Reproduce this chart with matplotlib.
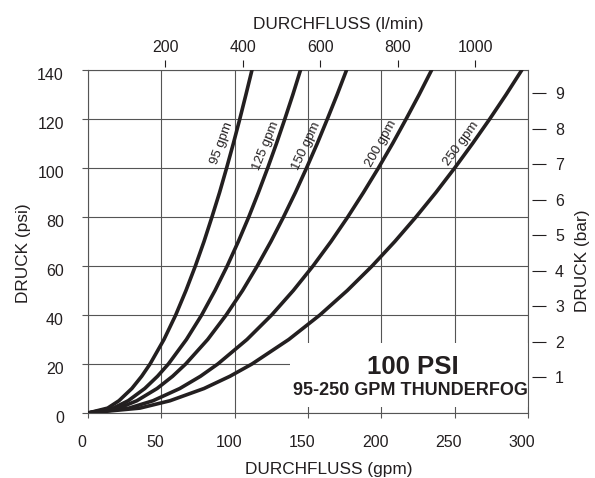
import matplotlib
matplotlib.use('Agg')
import matplotlib.pyplot as plt
from matplotlib.patches import Rectangle
from matplotlib.transforms import ScaledTranslation

plt.rcParams['font.family'] = ['Liberation Sans', 'DejaVu Sans']

INK = '#231f20'
GRID = '#555555'

# pressure levels (psi) and the flow (gpm) each nozzle setting needs to reach them
psi_levels = [0, 2, 5, 10, 15, 20, 30, 40, 50, 60, 70, 80, 90, 100, 110, 120, 130, 140]
flow_95 = [0, 13.4, 21.1, 29.9, 36.6, 42.3, 51.8, 59.8, 66.8, 73.2, 79.1, 84.5,
           89.7, 94.5, 99.1, 103.5, 107.7, 111.8]
flow_125 = [0, 17.3, 27.4, 38.7, 47.4, 54.8, 67.1, 77.5, 86.6, 94.9, 102.5, 109.6,
            116.2, 122.5, 128.5, 134.2, 139.7, 144.9]
flow_150 = [0, 21.1, 33.3, 47.1, 57.7, 66.6, 81.6, 94.2, 105.4, 115.4, 124.7, 133.3,
            141.4, 149.0, 156.3, 163.2, 169.9, 176.3]
flow_200 = [0, 28.0, 44.3, 62.6, 76.7, 88.5, 108.4, 125.2, 140.0, 153.4, 165.7, 177.1,
            187.8, 198.0, 207.7, 216.9, 225.8, 234.3]
flow_250 = [0, 35.4, 55.9, 79.1, 96.8, 111.8, 136.9, 158.1, 176.8, 193.7, 209.2, 223.6,
            237.2, 250.0, 262.2, 273.9, 285.1, 295.8]

curve_names = ['95 gpm', '125 gpm', '150 gpm', '200 gpm', '250 gpm']
curve_flows = [flow_95, flow_125, flow_150, flow_200, flow_250]
label_x = [91.2, 121.1, 149.0, 200.0, 254.4]
label_y = [110.1, 108.9, 108.9, 110.1, 110.1]
label_rot = [70, 68, 65, 61, 54]

gpm_ticks = [0, 50, 100, 150, 200, 250, 300]
psi_ticks = [0, 20, 40, 60, 80, 100, 120, 140]
lpm_ticks = [200, 400, 600, 800, 1000]
bar_ticks = [1, 2, 3, 4, 5, 6, 7, 8, 9]

GPM_TO_LPM = 3.78541
PSI_PER_BAR = 14.5038

fig = plt.figure(figsize=(5.95, 4.78), dpi=100)
ax = fig.add_axes([88 / 595, 65 / 478, 440 / 595, 343 / 478])

for flows in curve_flows:
    ax.plot(flows, psi_levels, color=INK, lw=2.6, solid_capstyle='round',
            solid_joinstyle='round', zorder=3)

for name, x, y, rot in zip(curve_names, label_x, label_y, label_rot):
    ax.text(x, y, name, rotation=rot, rotation_mode='anchor', ha='center',
            va='center', fontsize=9.5, color=INK, zorder=4)

ax.set_xlim(0, 300)
ax.set_ylim(0, 140)
ax.set_xticks(gpm_ticks)
ax.set_yticks(psi_ticks)
ax.grid(True, color=GRID, lw=0.8)
ax.set_axisbelow(True)
for side in ['left', 'right', 'top', 'bottom']:
    ax.spines[side].set_color(GRID)
    ax.spines[side].set_linewidth(0.8)
ax.tick_params(axis='x', direction='out', length=3.6, width=0.8, color=GRID,
               labelsize=11.5, labelcolor=INK, pad=12)
ax.tick_params(axis='y', direction='out', length=4.3, width=0.8, color=GRID,
               labelsize=11.5, labelcolor=INK, pad=13)

# nudge the primary tick labels a little, as on the printed sheet
for lbl in ax.get_xticklabels():
    lbl.set_transform(lbl.get_transform() + ScaledTranslation(-6 / 100, 0, fig.dpi_scale_trans))
for lbl in ax.get_yticklabels():
    lbl.set_transform(lbl.get_transform() + ScaledTranslation(0, -4 / 100, fig.dpi_scale_trans))

# title block blanks out the grid behind it
ax.add_patch(Rectangle((137.4, 2.3), 162.6, 26.2, facecolor='white',
                       edgecolor='none', zorder=1))
ax.text(221.6, 15.8, '100 PSI', ha='center', va='baseline', fontsize=18.5,
        fontweight='bold', color=INK, zorder=4)
ax.text(220.1, 7.2, '95-250 GPM THUNDERFOG', ha='center', va='baseline',
        fontsize=13, fontweight='bold', color=INK, zorder=4)

# metric scales
top = ax.secondary_xaxis('top', functions=(lambda g: g * GPM_TO_LPM,
                                           lambda l: l / GPM_TO_LPM))
top.set_xticks(lpm_ticks)
top.spines['top'].set_position(('outward', 2.5))
top.spines['top'].set_visible(False)
top.tick_params(direction='out', length=5, width=0.8, color=INK,
                labelsize=11.5, labelcolor=INK, pad=3.6)

right = ax.secondary_yaxis('right', functions=(lambda p: p / PSI_PER_BAR,
                                               lambda b: b * PSI_PER_BAR))
right.set_yticks(bar_ticks)
right.spines['right'].set_position(('outward', 2.7))
right.spines['right'].set_visible(False)
right.tick_params(direction='out', length=10.3, width=0.8, color=INK,
                  labelsize=11.5, labelcolor=INK, pad=6.5)

fig.text(338 / 595, 1 - 29 / 478, 'DURCHFLUSS (l/min)', ha='center',
         va='baseline', fontsize=12.4, color=INK)
fig.text(329 / 595, 1 - 474.4 / 478, 'DURCHFLUSS (gpm)', ha='center',
         va='baseline', fontsize=12.4, color=INK)
fig.text(24 / 595, 1 - 253.5 / 478, 'DRUCK (psi)', rotation=90, ha='center',
         va='center', fontsize=12.4, color=INK)
fig.text(583 / 595, 1 - 260.5 / 478, 'DRUCK (bar)', rotation=90, ha='center',
         va='center', fontsize=12.4, color=INK)

fig.savefig('out.png', dpi=100)
